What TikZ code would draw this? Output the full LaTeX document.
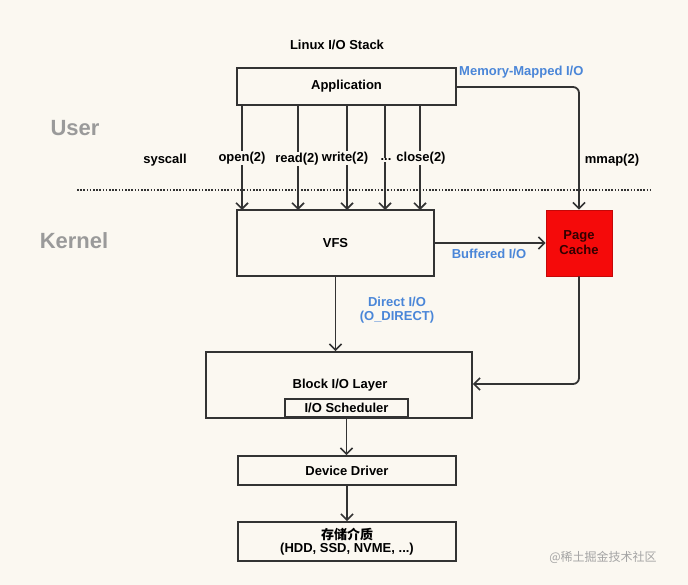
\documentclass[tikz,border=0pt]{standalone}
\usepackage{fontspec}
\setmainfont{Liberation Sans}
\newfontfamily\cjk{Noto Sans CJK SC}
\usetikzlibrary{arrows.meta}
\definecolor{bg}{HTML}{FBF8F1}
\definecolor{ln}{HTML}{333333}
\definecolor{bl}{HTML}{4A86D8}
\definecolor{gr}{HTML}{9A9A9A}
\definecolor{pc}{HTML}{F50A0A}
\tikzset{
  box/.style={draw=ln, line width=1.8pt, fill=bg, inner sep=0pt, font=\bfseries\fontsize{13}{15}\selectfont},
  arr/.style={draw=ln, line width=1.8pt, -{Straight Barb[length=6pt,width=12pt,line width=1.6pt]}},
  lbl/.style={font=\bfseries\fontsize{13}{15}\selectfont, inner sep=1pt},
  blu/.style={font=\bfseries\fontsize{13}{15}\selectfont, text=bl, inner sep=1pt, align=center},
  side/.style={font=\bfseries\fontsize{22}{24}\selectfont, text=gr}
}
\begin{document}
\begin{tikzpicture}[x=1pt,y=-1pt]
\fill[bg] (0,0) rectangle (688,585);
\useasboundingbox (0,0) rectangle (688,585);

\node[lbl] (title) at (337,45) {Linux I/O Stack};
\node[side] (user) at (75,128) {User};
\node[side] (kernel) at (74,241) {Kernel};

\node[box, minimum width=219pt, minimum height=37pt] (app) at (346.5,86.5) {Application};
\node[box, minimum width=197pt, minimum height=66pt] (vfs) at (335.5,243) {VFS};
\node[box, fill=pc, draw=pc!80!black, line width=0.8pt, minimum width=66pt, minimum height=66pt, align=center, text=black!80!red] (pc) at (579,243) {Page\\[0pt]Cache};
\node[box, minimum width=266pt, minimum height=66pt] (blk) at (339,385) {};
\node[lbl] (blkt) at (340,385) {Block I/O Layer};
\node[box, minimum width=123pt, minimum height=18pt, anchor=south] (sch) at (346.5,418) {I/O Scheduler};
\node[box, minimum width=218pt, minimum height=29pt] (dd) at (347,470.5) {Device Driver};
\node[box, minimum width=218pt, minimum height=39pt, align=center] (st) at (347,541.5) {{\cjk\bfseries 存储介质}\\[-2pt](HDD, SSD, NVME, ...)};

% dotted separator
\coordinate (dl) at (77,190);
\coordinate (dr) at (652,190);
\draw[ln, line width=1.8pt, dash pattern=on 1.6pt off 1.6pt] (dl) -- (dr);

% syscalls
\foreach \x/\n in {242/a,298/b,347/c,385/d,420/e}{
  \coordinate (s\n) at (\x,105);
  \coordinate (t\n) at (\x,210);
  \draw[arr] (s\n) -- (t\n);
}
\node[lbl, fill=bg] (open) at (242,158) {open(2)};
\node[lbl, fill=bg] (read) at (297,159) {read(2)};
\node[lbl, fill=bg] (write) at (345,158) {write(2)};
\node[lbl, fill=bg, inner xsep=0.5pt] (dots) at (386,160) {...};
\node[lbl, fill=bg] (close) at (421,158) {close(2)};
\node[lbl] (sys) at (165,160) {syscall};
\node[lbl] (mmap) at (612,160) {mmap(2)};

% mmap
\node[blu, anchor=west] (mmio) at (458,72) {Memory-Mapped I/O};
\draw[arr, rounded corners=6pt] (app.east |- 0,87) -| (pc.north);

% buffered
\draw[arr] (vfs.east) -- (pc.west);
\node[blu] (buf) at (489,254) {Buffered I/O};

% direct
\draw[arr] (vfs.south) -- (vfs.south |- blk.north);
\node[blu] (dir) at (397,310) {Direct I/O\\[-1pt](O\_DIRECT)};

% page cache to block
\draw[arr, rounded corners=6pt] (pc.south) |- (blk.east |- 0,384);

\draw[arr] (sch.south) -- (sch.south |- dd.north);
\draw[arr] (dd.south) -- (dd.south |- st.north);

\node[font=\cjk\fontsize{12}{14}\selectfont, text=gr!90] (wm) at (603,557) {@稀土掘金技术社区};
\end{tikzpicture}
\end{document}
